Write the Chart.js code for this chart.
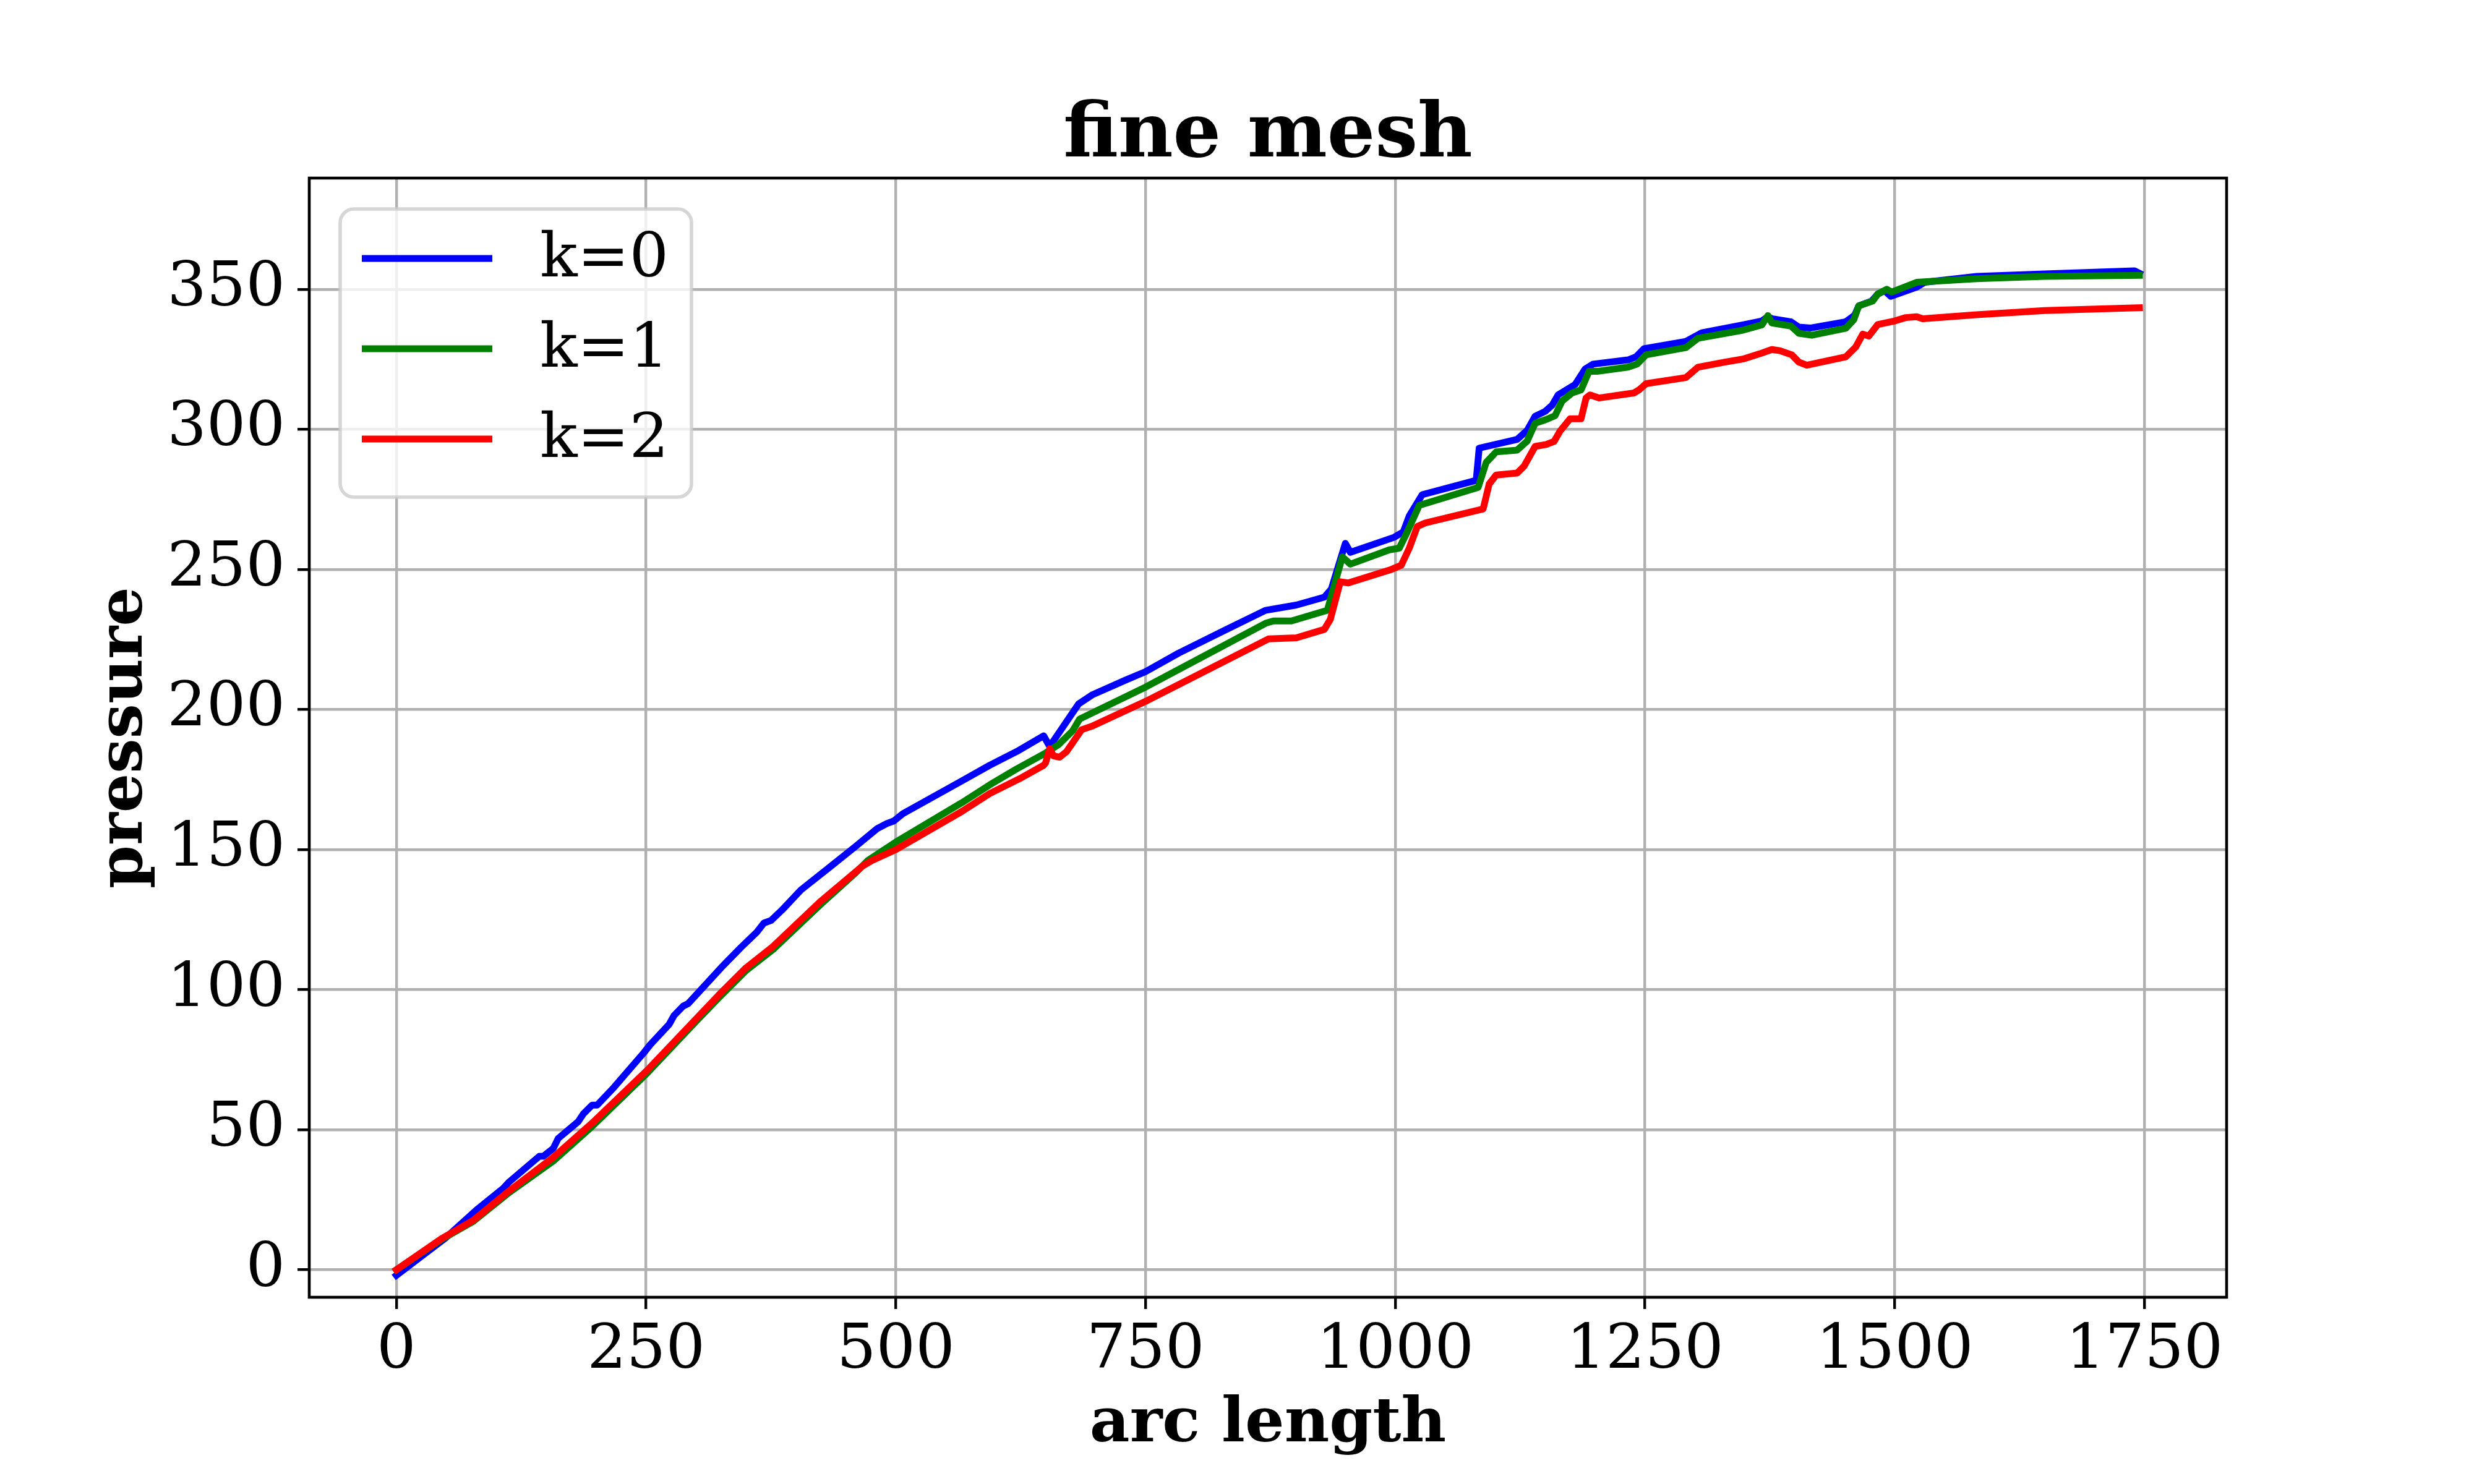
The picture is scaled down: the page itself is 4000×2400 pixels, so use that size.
<!DOCTYPE html>
<html>
<head>
<meta charset="utf-8">
<script src="https://cdn.jsdelivr.net/npm/chart.js@4"></script>
<style>
  html, body { margin: 0; padding: 0; background: #fff; }
  #wrap { width: 4000px; height: 2400px; }
</style>
</head>
<body>
<div id="wrap"><canvas id="pressureChart" width="4000" height="2400"></canvas></div>
<script>
var seriesLabels = ['k=0', 'k=1', 'k=2'];
var seriesColors = ['#0000ff', '#008000', '#ff0000'];

// k=0
var k0Arc = [0, 49, 80, 107, 113, 143, 147, 157, 162, 182, 187, 196, 201, 218, 248, 254, 273, 278, 287, 292,
  325, 345, 361, 368, 375, 386, 405, 434, 460, 481, 491, 498, 507, 566, 594, 621, 648, 654, 683, 697,
  730, 750, 783, 830, 870, 901, 929, 936, 950, 955, 999, 1008, 1014, 1027, 1081, 1084, 1122, 1132, 1140, 1150,
  1157, 1163, 1180, 1190, 1198, 1233, 1241, 1249, 1291, 1307, 1348, 1367, 1373, 1377, 1396, 1404, 1416, 1451, 1460, 1464,
  1477, 1483, 1490, 1496, 1522, 1530, 1582, 1650, 1740, 1745];
var k0Pressure = [-2, 11.3, 21.3, 29.1, 31.4, 40.5, 40.5, 43.3, 46.9, 52.9, 55.6, 58.8, 58.8, 65.2, 77.6, 80.3, 87.6, 90.8, 94.1, 95,
  107.8, 115.1, 120.6, 123.8, 124.7, 128.4, 135.6, 143.8, 151.2, 157.4, 159.3, 160.2, 162.8, 174.5, 180.1, 185, 190.6, 186.8, 202, 205.3,
  210.5, 213.5, 220.1, 228.4, 235.4, 237.3, 240.1, 243, 259.3, 256.1, 261.5, 263.4, 269.1, 276.7, 281.8, 293.3, 296.4, 299.6, 304.7, 306.4,
  308.6, 312.3, 316, 321.5, 323.3, 324.8, 325.9, 328.8, 331.4, 334.5, 337.3, 338.7, 340.2, 339.5, 338.4, 336.5, 336.2, 338.4, 340.8, 344.1,
  345.8, 348.3, 349.5, 347.5, 350.8, 352.5, 354.6, 355.5, 356.6, 355.7];

// k=1
var k1Arc = [0, 46, 77, 113, 157, 196, 251, 300, 323, 350, 377, 424, 460, 472, 500, 566, 594, 621, 650, 663,
  677, 684, 750, 871, 878, 896, 932, 947, 955, 994, 1004, 1012, 1024, 1083, 1091, 1101, 1122, 1132, 1140, 1151,
  1160, 1167, 1177, 1186, 1194, 1202, 1233, 1242, 1251, 1291, 1303, 1348, 1367, 1373, 1377, 1396, 1404, 1417, 1451, 1459,
  1464, 1478, 1483, 1492, 1497, 1522, 1582, 1650, 1745];
var k1Pressure = [0, 11, 17.3, 27.6, 38.8, 51.2, 70.2, 88.7, 97.2, 106.8, 114.3, 130.2, 141.8, 146.1, 152.7, 166.7, 173.1, 178.8, 184.5, 187.5,
  192.4, 196.6, 208, 230.9, 231.6, 231.6, 235.4, 254.5, 251.9, 257, 257.6, 263.4, 272.9, 279.3, 288.2, 292, 292.6, 295.8, 302.2, 303.5,
  304.9, 310.1, 313, 314.1, 320.7, 320.7, 322.2, 323.3, 326.6, 329.2, 332.5, 335.4, 337.3, 340.6, 338, 336.9, 334.3, 333.6, 336.1, 339.1,
  344.1, 345.8, 348.3, 350, 349, 352.5, 353.8, 354.6, 355];

// k=2
var k2Arc = [0, 46, 77, 113, 157, 196, 251, 323, 350, 377, 424, 467, 476, 500, 566, 594, 626, 648, 650, 654,
  658, 664, 671, 686, 696, 750, 873, 901, 929, 935, 945, 953, 996, 1006, 1014, 1022, 1030, 1088, 1094, 1101,
  1122, 1129, 1140, 1151, 1159, 1165, 1175, 1186, 1191, 1195, 1204, 1239, 1244, 1251, 1291, 1303, 1330, 1348, 1365, 1377,
  1385, 1397, 1404, 1412, 1451, 1461, 1468, 1474, 1483, 1500, 1511, 1522, 1528, 1582, 1650, 1745];
var k2Pressure = [0, 11.3, 17.7, 28.2, 40.1, 52.4, 71.2, 98.2, 107.8, 115.4, 131.3, 144.2, 146.1, 150, 163.6, 170, 175.7, 180.1, 181, 186,
  183.4, 183, 185, 192.8, 194, 202.9, 225.2, 225.6, 228.6, 232.2, 245.6, 245.2, 250, 251.5, 257.6, 265.3, 266.6, 271.6, 280.5, 283.7,
  284.4, 286.9, 293.9, 294.6, 295.7, 299.4, 303.8, 303.8, 311.2, 312.3, 311.2, 313, 314.1, 316.3, 318.5, 322.2, 324, 325.1, 327, 328.5,
  328.1, 326.6, 324, 322.9, 325.9, 329.4, 334, 333.3, 337.4, 338.7, 339.9, 340.2, 339.5, 340.9, 342.4, 343.4];

var xTicks = [0, 250, 500, 750, 1000, 1250, 1500, 1750];
var yTicks = [0, 50, 100, 150, 200, 250, 300, 350];

var serif = "'DejaVu Serif', serif";

function points(arc, pressure) {
  return arc.map(function (a, i) { return { x: a, y: pressure[i] }; });
}

// axes box + legend drawn on top of the lines
var frameAndLegend = {
  id: 'frameAndLegend',
  afterDatasetsDraw: function (chart) {
    var ctx = chart.ctx, a = chart.chartArea;
    ctx.save();
    ctx.strokeStyle = '#000';
    ctx.lineWidth = 4.6;
    ctx.strokeRect(a.left, a.top, a.right - a.left, a.bottom - a.top);

    var bx = a.left + 50, by = a.top + 50, bw = 568, bh = 466;
    ctx.beginPath();
    ctx.roundRect(bx, by, bw, bh, 22);
    ctx.fillStyle = 'rgba(255,255,255,0.8)';
    ctx.fill();
    ctx.strokeStyle = 'rgba(204,204,204,0.8)';
    ctx.lineWidth = 5.5;
    ctx.stroke();

    ctx.font = '100px ' + serif;
    ctx.textBaseline = 'middle';
    ctx.textAlign = 'left';
    chart.data.datasets.forEach(function (ds, i) {
      var y = by + 80 + i * 146;
      ctx.strokeStyle = ds.borderColor;
      ctx.lineWidth = 11;
      ctx.beginPath();
      ctx.moveTo(bx + 35, y);
      ctx.lineTo(bx + 246, y);
      ctx.stroke();
      ctx.fillStyle = '#000';
      ctx.fillText(ds.label, bx + 323, y + 3);
    });
    ctx.restore();
  }
};

var ctx = document.getElementById('pressureChart').getContext('2d');
var chart = new Chart(ctx, {
  type: 'line',
  data: {
    datasets: [
      { label: seriesLabels[0], data: points(k0Arc, k0Pressure), borderColor: seriesColors[0], order: 2 },
      { label: seriesLabels[1], data: points(k1Arc, k1Pressure), borderColor: seriesColors[1], order: 1 },
      { label: seriesLabels[2], data: points(k2Arc, k2Pressure), borderColor: seriesColors[2], order: 0 }
    ]
  },
  options: {
    responsive: false,
    animation: false,
    devicePixelRatio: 1,
    layout: { padding: { left: 0, right: 400, top: 0, bottom: 0 } },
    elements: {
      line: { borderWidth: 11, tension: 0, fill: false, borderJoinStyle: 'round', borderCapStyle: 'square' },
      point: { radius: 0, hoverRadius: 0 }
    },
    scales: {
      x: {
        type: 'linear',
        min: -87.25,
        max: 1832.25,
        afterBuildTicks: function (scale) {
          scale.ticks = xTicks.map(function (v) { return { value: v }; });
        },
        afterFit: function (scale) { scale.height = 302; },
        grid: { color: '#b0b0b0', lineWidth: 4.4, tickColor: '#000', tickWidth: 4.4, tickLength: 19 },
        border: { display: false },
        ticks: {
          color: '#000', padding: 9, maxRotation: 0, font: { family: serif, size: 100 },
          callback: function (v) { return String(v); }
        },
        title: {
          display: true, text: 'arc length', color: '#000',
          font: { family: serif, size: 100, weight: 'bold', lineHeight: 1.2 },
          padding: { top: 0, bottom: 35 }
        }
      },
      y: {
        type: 'linear',
        min: -9.8,
        max: 389.7,
        afterBuildTicks: function (scale) {
          scale.ticks = yTicks.map(function (v) { return { value: v }; });
        },
        afterFit: function (scale) { scale.width = 500; },
        grid: { color: '#b0b0b0', lineWidth: 4.4, tickColor: '#000', tickWidth: 4.4, tickLength: 19 },
        border: { display: false },
        ticks: {
          color: '#000', padding: 20, font: { family: serif, size: 100 },
          callback: function (v) { return String(v); }
        },
        title: {
          display: true, text: 'pressure', color: '#000',
          font: { family: serif, size: 100, weight: 'bold', lineHeight: 1.2 },
          padding: { top: 143, bottom: 0 }
        }
      }
    },
    plugins: {
      legend: { display: false },
      tooltip: { enabled: false },
      title: {
        display: true,
        fullSize: false,
        text: 'fine mesh',
        color: '#000',
        font: { family: serif, size: 122, weight: 'bold', lineHeight: 1.0 },
        padding: { top: 160, bottom: 6 }
      }
    }
  },
  plugins: [frameAndLegend]
});
</script>
</body>
</html>
